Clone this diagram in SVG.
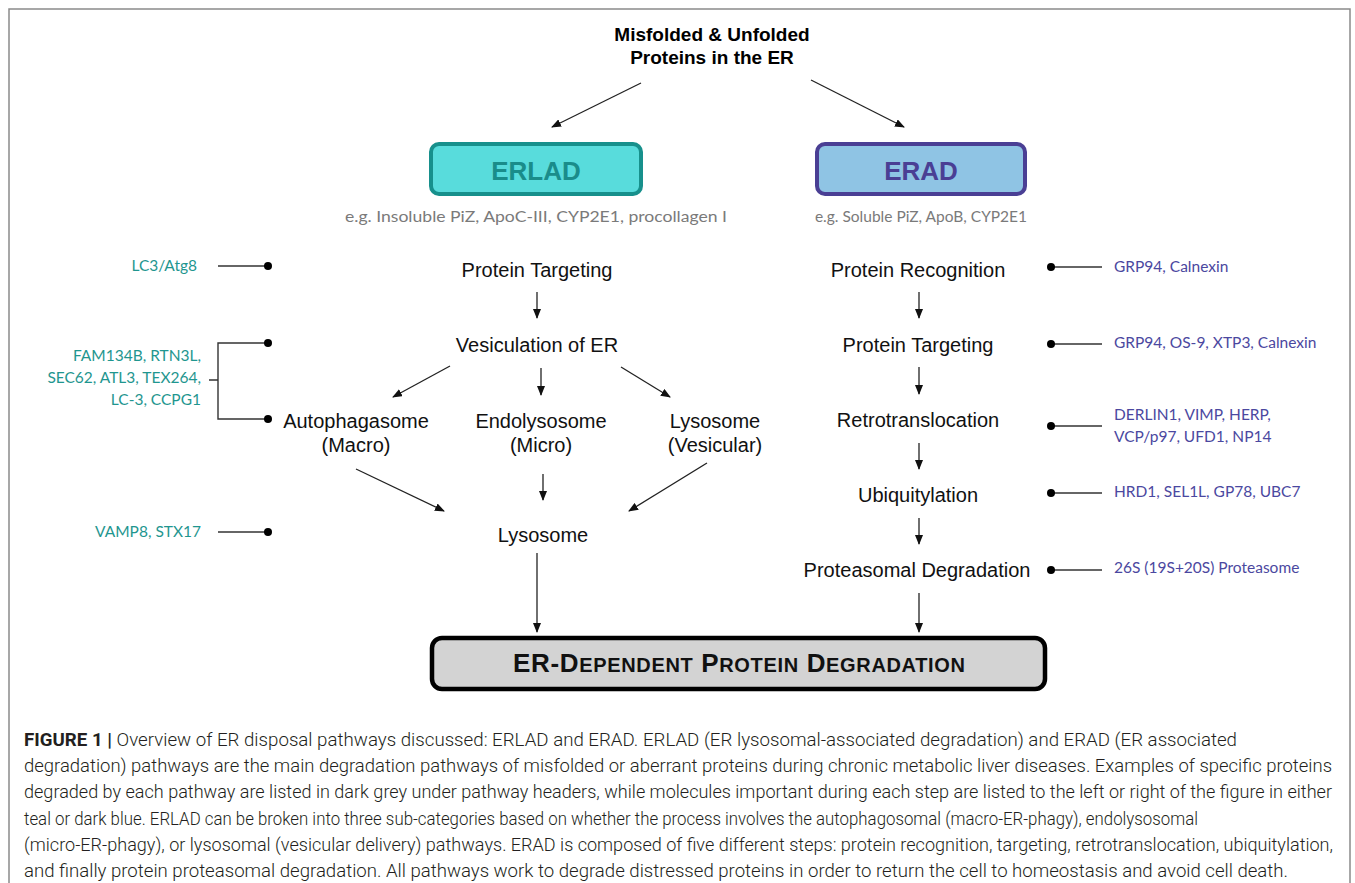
<svg xmlns="http://www.w3.org/2000/svg" width="1355" height="883" viewBox="0 0 1355 883">
<style>
.main{font-family:"Liberation Sans",Arial,sans-serif;font-size:20px;fill:#111;text-anchor:middle}
.title{font-family:"Liberation Sans",Arial,sans-serif;font-size:19px;font-weight:bold;fill:#000;text-anchor:middle}
.ex{font-family:Lato,"Open Sans",sans-serif;font-size:15.5px;fill:#7a7a7a;text-anchor:middle}
.teal{font-family:Lato,"Open Sans",sans-serif;font-size:15.5px;fill:#1f968f;text-anchor:end}
.blue{font-family:Lato,"Open Sans",sans-serif;font-size:15.5px;fill:#4b48a0}
.cap{font-family:Roboto,"Liberation Sans",sans-serif;font-size:18px;font-weight:300;fill:#231f20}
.arr{stroke:#222;stroke-width:1.3;fill:none;marker-end:url(#ah)}
.pin{stroke:#333;stroke-width:1.4;fill:none}
.frame{stroke:#8a8a8a;stroke-width:1.5;fill:none}
</style>
<defs>
<marker id="ah" markerUnits="userSpaceOnUse" markerWidth="10" markerHeight="8" refX="9" refY="4" orient="auto">
<path d="M0,0 L10,4 L0,8 z" fill="#111"/>
</marker>
</defs>
<rect width="1355" height="883" fill="#fff"/>
<path class="frame" d="M9,883 V9 H1350 V883"/>

<g id="title">
<text class="title" x="712" y="41">Misfolded &amp; Unfolded</text>
<text class="title" x="712" y="64">Proteins in the ER</text>
</g>

<g id="erlad">
<rect x="431" y="144" width="210" height="50" rx="8" fill="#58dcdc" stroke="#17908c" stroke-width="4"/>
<text x="536" y="180" font-family="Liberation Sans,Arial,sans-serif" font-size="26" font-weight="bold" fill="#1a8c8a" text-anchor="middle">ERLAD</text>
<text class="ex" x="536" y="222" textLength="382" lengthAdjust="spacingAndGlyphs">e.g. Insoluble PiZ, ApoC-III, CYP2E1, procollagen I</text>
</g>
<g id="erad">
<rect x="817" y="144" width="208" height="50" rx="8" fill="#8fc4e4" stroke="#4a3f94" stroke-width="4"/>
<text x="921" y="180" font-family="Liberation Sans,Arial,sans-serif" font-size="26" font-weight="bold" fill="#4a3f94" text-anchor="middle">ERAD</text>
<text class="ex" x="921" y="222">e.g. Soluble PiZ, ApoB, CYP2E1</text>
</g>

<g id="erlad-steps">
<text class="main" id="l-target" x="537" y="277">Protein Targeting</text>
<text class="main" id="l-vesic" x="537" y="352">Vesiculation of ER</text>
<text class="main" id="l-auto" x="356" y="428">Autophagasome<tspan x="356" dy="24">(Macro)</tspan></text>
<text class="main" id="l-endo" x="541" y="428">Endolysosome<tspan x="541" dy="24">(Micro)</tspan></text>
<text class="main" id="l-lyso" x="715" y="428">Lysosome<tspan x="715" dy="24">(Vesicular)</tspan></text>
<text class="main" id="l-lysosome" x="543" y="542">Lysosome</text>
</g>

<g id="erad-steps">
<text class="main" id="r-recog" x="918" y="277">Protein Recognition</text>
<text class="main" id="r-target" x="918" y="352">Protein Targeting</text>
<text class="main" id="r-retro" x="918" y="427">Retrotranslocation</text>
<text class="main" id="r-ubiq" x="918" y="502">Ubiquitylation</text>
<text class="main" id="r-prot" x="917" y="577">Proteasomal Degradation</text>
</g>

<g id="final">
<rect x="432" y="638" width="613" height="51" rx="10" fill="#d3d3d3" stroke="#000" stroke-width="4.5"/>
<text x="739" y="672" font-family="Liberation Sans,Arial,sans-serif" font-weight="bold" fill="#111" text-anchor="middle" font-size="26" textLength="452" lengthAdjust="spacing">ER-D<tspan font-size="20">EPENDENT</tspan> P<tspan font-size="20">ROTEIN</tspan> D<tspan font-size="20">EGRADATION</tspan></text>
</g>

<g id="teal-labels">
<text class="teal" x="197" y="271">LC3/Atg8</text>
<text class="teal" x="201" y="361">FAM134B, RTN3L,</text>
<text class="teal" x="201" y="383">SEC62, ATL3, TEX264,</text>
<text class="teal" x="201" y="405">LC-3, CCPG1</text>
<text class="teal" x="201" y="537">VAMP8, STX17</text>
</g>

<g id="blue-labels">
<text class="blue" x="1114" y="272">GRP94, Calnexin</text>
<text class="blue" x="1114" y="348">GRP94, OS-9, XTP3, Calnexin</text>
<text class="blue" x="1114" y="420">DERLIN1, VIMP, HERP,</text>
<text class="blue" x="1114" y="442">VCP/p97, UFD1, NP14</text>
<text class="blue" x="1114" y="497">HRD1, SEL1L, GP78, UBC7</text>
<text class="blue" x="1114" y="573">26S (19S+20S) Proteasome</text>
</g>

<g id="connectors">
<line class="arr" x1="641" y1="83" x2="552" y2="127"/>
<line class="arr" x1="811" y1="80" x2="904" y2="127"/>
<line class="arr" x1="537" y1="292" x2="537" y2="318"/>
<line class="arr" x1="450" y1="366" x2="393" y2="397"/>
<line class="arr" x1="541" y1="368" x2="541" y2="395"/>
<line class="arr" x1="621" y1="367" x2="670" y2="397"/>
<line class="arr" x1="356" y1="469" x2="444" y2="511"/>
<line class="arr" x1="543" y1="474" x2="543" y2="500"/>
<line class="arr" x1="707" y1="463" x2="629" y2="511"/>
<line class="arr" x1="537" y1="553" x2="537" y2="632"/>
<line class="arr" x1="919" y1="292" x2="919" y2="318"/>
<line class="arr" x1="919" y1="367" x2="919" y2="394"/>
<line class="arr" x1="919" y1="443" x2="919" y2="469"/>
<line class="arr" x1="919" y1="518" x2="919" y2="544"/>
<line class="arr" x1="919" y1="593" x2="919" y2="632"/>
<g class="pin">
<line x1="218" y1="266" x2="268" y2="266"/>
<path d="M268,343 H218 V419 H268 M209,380 H218"/>
<line x1="218" y1="532" x2="268" y2="532"/>
<line x1="1051" y1="267" x2="1102" y2="267"/>
<line x1="1051" y1="344" x2="1102" y2="344"/>
<line x1="1051" y1="426" x2="1102" y2="426"/>
<line x1="1051" y1="493" x2="1102" y2="493"/>
<line x1="1051" y1="570" x2="1102" y2="570"/>
</g>
<g fill="#000">
<circle cx="268" cy="266" r="4"/>
<circle cx="268" cy="343" r="4"/>
<circle cx="268" cy="419" r="4"/>
<circle cx="268" cy="532" r="4"/>
<circle cx="1051" cy="267" r="4"/>
<circle cx="1051" cy="344" r="4"/>
<circle cx="1051" cy="426" r="4"/>
<circle cx="1051" cy="493" r="4"/>
<circle cx="1051" cy="570" r="4"/>
</g>
</g>

<g id="caption" class="cap">
<text x="24" y="746" textLength="1213" lengthAdjust="spacingAndGlyphs"><tspan font-weight="bold">FIGURE 1 |</tspan> Overview of ER disposal pathways discussed: ERLAD and ERAD. ERLAD (ER lysosomal-associated degradation) and ERAD (ER associated</text>
<text x="24" y="772" textLength="1308" lengthAdjust="spacingAndGlyphs">degradation) pathways are the main degradation pathways of misfolded or aberrant proteins during chronic metabolic liver diseases. Examples of specific proteins</text>
<text x="24" y="798" textLength="1308" lengthAdjust="spacingAndGlyphs">degraded by each pathway are listed in dark grey under pathway headers, while molecules important during each step are listed to the left or right of the figure in either</text>
<text x="24" y="825" textLength="1174" lengthAdjust="spacingAndGlyphs">teal or dark blue. ERLAD can be broken into three sub-categories based on whether the process involves the autophagosomal (macro-ER-phagy), endolysosomal</text>
<text x="24" y="851" textLength="1309" lengthAdjust="spacingAndGlyphs">(micro-ER-phagy), or lysosomal (vesicular delivery) pathways. ERAD is composed of five different steps: protein recognition, targeting, retrotranslocation, ubiquitylation,</text>
<text x="24" y="877" textLength="1264" lengthAdjust="spacingAndGlyphs">and finally protein proteasomal degradation. All pathways work to degrade distressed proteins in order to return the cell to homeostasis and avoid cell death.</text>
</g>
</svg>
